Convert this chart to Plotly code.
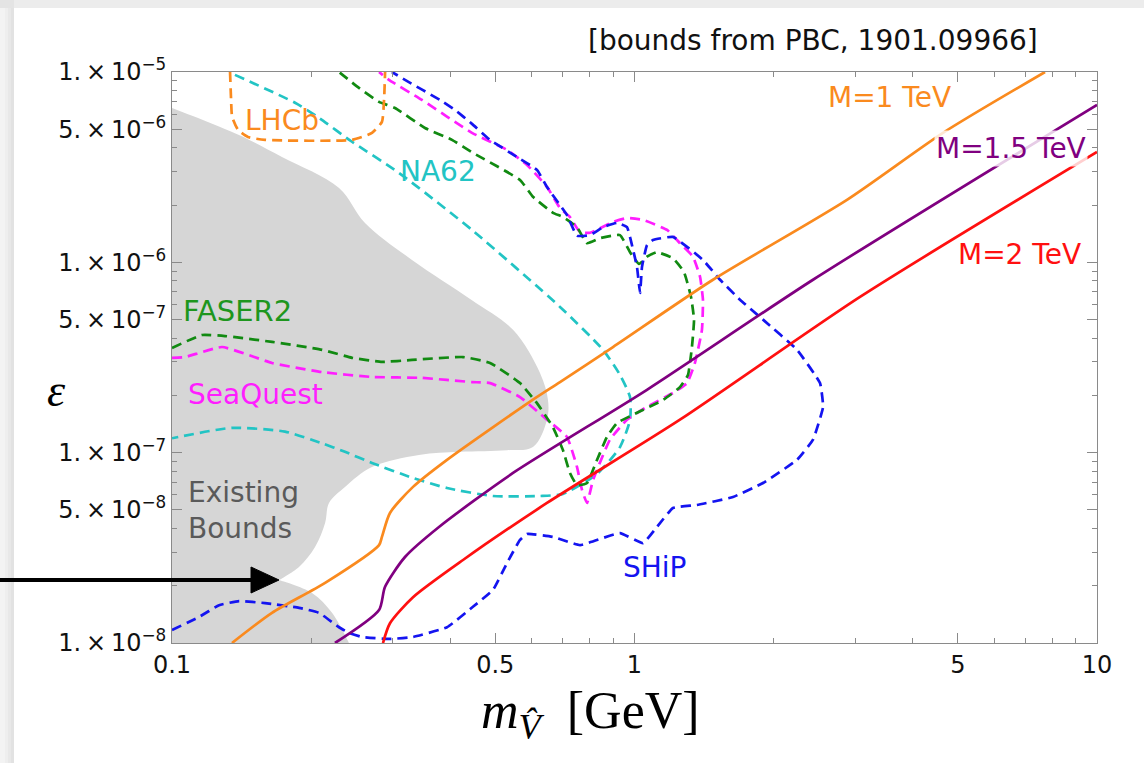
import plotly.graph_objects as go

# ---------------- data ----------------
gray_x = [0.1, 0.1, 0.1, 0.1396, 0.1729, 0.2297, 0.2614, 0.3303, 0.4452, 0.5462, 0.6247, 0.650, 0.6468,
          0.6032, 0.530, 0.4195, 0.342, 0.2706, 0.2366, 0.2185, 0.2143, 0.2038, 0.1882, 0.1703,
          0.1703, 0.2008, 0.2218, 0.2414, 0.2414, 0.1, 0.1]
gray_y = [1e-8, 6.47e-6, 6.47e-6, 4.67e-6, 3.58e-6, 2.46e-6, 1.61e-6, 1.03e-6, 6.33e-7, 4.42e-7, 2.62e-7,
          1.89e-7, 1.49e-7, 1.07e-7, 1.03e-7, 1.01e-7, 9.73e-8, 8.41e-8, 6.61e-8, 5.44e-8, 4.27e-8,
          3.19e-8, 2.51e-8, 2.14e-8, 2.14e-8, 1.83e-8, 1.44e-8, 1e-8, 1e-8, 1e-8, 1e-8]

lhcb_x = [0.1335, 0.1342, 0.1349, 0.1389, 0.1459, 0.1589, 0.2450, 0.2706, 0.2844, 0.2874, 0.2889]
lhcb_y = [1.0e-5, 7.13e-6, 5.81e-6, 4.97e-6, 4.56e-6, 4.40e-6, 4.40e-6, 4.79e-6, 5.47e-6, 7.13e-6, 1.0e-5]

na62_x = [0.1368, 0.1845, 0.2079, 0.2450, 0.3096, 0.4452, 0.6901, 0.8549, 0.9303, 0.9779, 0.9779,
          0.9303, 0.8297, 0.7005, 0.6247, 0.4943, 0.3932, 0.3320, 0.2706, 0.2366, 0.2111, 0.1755,
          0.1348, 0.1]
na62_y = [9.66e-6, 6.89e-6, 5.74e-6, 4.30e-6, 2.95e-6, 1.48e-6, 5.83e-7, 3.47e-7, 2.56e-7, 1.96e-7,
          1.49e-7, 1.07e-7, 7.73e-8, 6.07e-8, 5.92e-8, 5.92e-8, 6.52e-8, 7.36e-8, 8.83e-8, 1.01e-7,
          1.12e-7, 1.29e-7, 1.35e-7, 1.19e-7]

faser2_x = [0.1, 0.1161, 0.1302, 0.1645, 0.2111, 0.2450, 0.2844, 0.3303, 0.4258, 0.4871, 0.5655,
            0.6154, 0.6664, 0.7005, 0.7252, 0.7510, 0.7895, 0.8297, 0.8720, 0.9166, 1.0125, 1.152,
            1.254, 1.305, 1.331, 1.345, 1.325, 1.279, 1.211, 1.118, 1.064, 1.023, 0.9779, 0.9303,
            0.8422, 0.7895, 0.7510, 0.7005, 0.6664, 0.6032, 0.5655, 0.4474, 0.4031, 0.3524, 0.3035,
            0.2803, 0.2536, 0.2297]
faser2_y = [3.55e-7, 4.15e-7, 4.10e-7, 3.82e-7, 3.47e-7, 3.15e-7, 3.00e-7, 3.07e-7, 3.18e-7, 2.96e-7,
            2.32e-7, 1.82e-7, 1.36e-7, 1.03e-7, 7.82e-8, 6.76e-8, 6.93e-8, 9.15e-8, 1.21e-7, 1.43e-7,
            1.62e-7, 1.89e-7, 2.21e-7, 2.56e-7, 3.59e-7, 5.00e-7, 6.58e-7, 8.91e-7, 1.05e-6, 1.13e-6,
            1.07e-6, 9.81e-7, 1.13e-6, 1.39e-6, 1.34e-6, 1.26e-6, 1.53e-6, 1.73e-6, 1.82e-6, 2.21e-6,
            2.71e-6, 3.76e-6, 4.40e-6, 5.08e-6, 6.47e-6, 6.97e-6, 8.25e-6, 1.0e-5]

seaquest_x = [0.1, 0.1067, 0.1283, 0.1645, 0.2111, 0.2706, 0.3471, 0.4452, 0.4871, 0.5655, 0.6468,
              0.7145, 0.7510, 0.7700, 0.7895, 0.8136, 0.885, 0.9634, 1.064, 1.211, 1.299, 1.351,
              1.399, 1.406, 1.386, 1.338, 1.254, 1.176, 1.043, 0.9634, 0.8985, 0.8012, 0.7624,
              0.7252, 0.6901, 0.6468, 0.5856, 0.530, 0.4452, 0.3471, 0.2944, 0.2803]
seaquest_y = [3.15e-7, 3.18e-7, 3.59e-7, 2.96e-7, 2.65e-7, 2.50e-7, 2.47e-7, 2.35e-7, 2.32e-7, 1.96e-7,
              1.49e-7, 1.21e-7, 8.41e-8, 6.37e-8, 5.44e-8, 7.19e-8, 1.17e-7, 1.49e-7, 1.74e-7, 2.06e-7,
              2.32e-7, 2.96e-7, 4.42e-7, 6.36e-7, 8.38e-7, 1.07e-6, 1.26e-6, 1.48e-6, 1.67e-6, 1.71e-6,
              1.63e-6, 1.43e-6, 1.44e-6, 1.73e-6, 1.93e-6, 2.49e-6, 3.25e-6, 3.90e-6, 4.79e-6, 7.13e-6,
              9.09e-6, 1.0e-5]

ship_x = [0.1, 0.1144, 0.1264, 0.1396, 0.1589, 0.1882, 0.2079, 0.2297, 0.2414, 0.2576, 0.2944,
          0.3320, 0.3932, 0.4474, 0.4943, 0.530, 0.5655, 0.5856, 0.6664, 0.7624, 0.9303, 1.043,
          1.118, 1.211, 1.365, 1.633, 1.896, 2.246, 2.432, 2.557, 2.518, 2.246, 1.896, 1.691, 1.531,
          1.406, 1.211, 1.096, 1.064, 1.038, 1.028, 1.0125, 0.9876, 0.9634, 0.9166, 0.8549, 0.8012,
          0.7510, 0.7145, 0.6468, 0.6154, 0.5567, 0.4871, 0.4452, 0.4092, 0.3797, 0.3190, 0.2989]
ship_y = [1.17e-8, 1.37e-8, 1.58e-8, 1.66e-8, 1.62e-8, 1.53e-8, 1.44e-8, 1.21e-8, 1.13e-8, 1.075e-8,
          1.05e-8, 1.075e-8, 1.21e-8, 1.55e-8, 1.90e-8, 2.63e-8, 3.48e-8, 3.74e-8, 3.61e-8, 3.27e-8,
          3.78e-8, 3.35e-8, 4.07e-8, 5.12e-8, 5.31e-8, 5.85e-8, 6.93e-8, 9.17e-8, 1.17e-7, 1.74e-7,
          2.32e-7, 3.47e-7, 5.00e-7, 6.36e-7, 8.10e-7, 1.03e-6, 1.36e-6, 1.31e-6, 1.23e-6, 9.46e-7,
          6.90e-7, 9.46e-7, 1.23e-6, 1.53e-6, 1.61e-6, 1.53e-6, 1.39e-6, 1.38e-6, 1.77e-6, 2.49e-6,
          3.06e-6, 3.58e-6, 4.40e-6, 5.34e-6, 6.32e-6, 7.13e-6, 9.09e-6, 1.0e-5]

m1_x = [0.1348, 0.1645, 0.2143, 0.2803, 0.2844, 0.2960, 0.3320, 0.3932, 0.6032, 0.6901, 0.8985,
        1.478, 2.880, 4.645, 7.72]
m1_y = [1e-8, 1.44e-8, 2.07e-8, 3.27e-8, 3.61e-8, 4.82e-8, 6.61e-8, 9.17e-8, 1.90e-7, 2.35e-7,
        3.59e-7, 8.10e-7, 2.13e-6, 4.79e-6, 1.0e-5]

m15_x = [0.2251, 0.2803, 0.2887, 0.3190, 0.3778, 0.5462, 1.064, 2.432, 10.0]
m15_y = [1e-8, 1.49e-8, 1.97e-8, 2.83e-8, 4.07e-8, 7.82e-8, 2.14e-7, 8.10e-7, 6.72e-6]

m2_x = [0.2859, 0.2960, 0.3320, 0.4258, 0.6468, 1.254, 3.073, 10.0]
m2_y = [1e-8, 1.27e-8, 1.74e-8, 2.73e-8, 5.44e-8, 1.49e-7, 6.58e-7, 3.80e-6]

x_tick_vals = [0.1, 0.5, 1, 5, 10]
x_tick_text = ["0.1", "0.5", "1", "5", "10"]
x_minor_vals = [0.2, 0.3, 0.4, 0.6, 0.7, 0.8, 0.9, 2, 3, 4, 6, 7, 8, 9]
y_tick_vals = [1e-8, 5e-8, 1e-7, 5e-7, 1e-6, 5e-6, 1e-5]
y_tick_text = ["1.\u2009×\u200910<sup>−8</sup>", "5.\u2009×\u200910<sup>−8</sup>",
               "1.\u2009×\u200910<sup>−7</sup>", "5.\u2009×\u200910<sup>−7</sup>",
               "1.\u2009×\u200910<sup>−6</sup>", "5.\u2009×\u200910<sup>−6</sup>",
               "1.\u2009×\u200910<sup>−5</sup>"]
y_minor_vals = [m * 10.0 ** e for e in (-8, -7, -6) for m in (2, 3, 4, 6, 7, 8, 9)]

# ---------------- colours ----------------
C_ORANGE = "#FA8A1E"
C_PURPLE = "#800080"
C_RED = "#FF1010"
C_BLUE = "#1414F0"
C_MAGENTA = "#FF1EFF"
C_GREEN = "#118A11"
C_CYAN = "#22C4C4"
C_GRAY = "#D6D6D6"

fig = go.Figure()

fig.add_trace(go.Scatter(x=gray_x, y=gray_y, mode="lines", fill="toself", fillcolor=C_GRAY,
                         line=dict(width=0, color=C_GRAY), line_shape="spline",
                         showlegend=False, hoverinfo="skip"))

dash = "10px,6px"
for xs, ys, col, sm in [(na62_x, na62_y, C_CYAN, 0.6), (seaquest_x, seaquest_y, C_MAGENTA, 0.4),
                        (faser2_x, faser2_y, C_GREEN, 0.4), (ship_x, ship_y, C_BLUE, 0.35),
                        (lhcb_x, lhcb_y, C_ORANGE, 0.5)]:
    fig.add_trace(go.Scatter(x=xs, y=ys, mode="lines",
                             line=dict(color=col, width=2.7, dash=dash, shape="spline", smoothing=sm),
                             showlegend=False, hoverinfo="skip"))

for xs, ys, col in [(m1_x, m1_y, C_ORANGE), (m15_x, m15_y, C_PURPLE), (m2_x, m2_y, C_RED)]:
    fig.add_trace(go.Scatter(x=xs, y=ys, mode="lines",
                             line=dict(color=col, width=2.7, shape="spline", smoothing=0.7),
                             showlegend=False, hoverinfo="skip"))

TICKC = "#8a8a8a"
fig.update_xaxes(type="log", range=[-1, 1], tickmode="array", tickvals=x_tick_vals,
                 ticktext=x_tick_text, ticks="inside", ticklen=10, tickwidth=1, tickcolor=TICKC,
                 showline=True, linecolor=TICKC, linewidth=1, mirror="allticks", showgrid=False,
                 zeroline=False, tickfont=dict(family="DejaVu Sans", size=24, color="#111"),
                 minor=dict(tickmode="array", tickvals=x_minor_vals, ticks="inside", ticklen=5,
                            tickcolor=TICKC, showgrid=False))
fig.update_yaxes(type="log", range=[-8, -5], tickmode="array", tickvals=y_tick_vals,
                 ticktext=y_tick_text, ticks="inside", ticklen=10, tickwidth=1, tickcolor=TICKC,
                 showline=True, linecolor=TICKC, linewidth=1, mirror="allticks", showgrid=False,
                 zeroline=False, tickfont=dict(family="DejaVu Sans", size=24, color="#111"),
                 minor=dict(tickmode="array", tickvals=y_minor_vals, ticks="inside", ticklen=5,
                            tickcolor=TICKC, showgrid=False))

L, R, T, B = 172, 47, 72, 120
W, H = 1144, 763
PW, PH = W - L - R, H - T - B


def px(xp):
    return (xp - L) / PW


def py(yp):
    return (H - B - yp) / PH


ann = []


def label(text, xp, yp, color, xanchor="left", size=28, bg=None, family="DejaVu Sans", align="left"):
    d = dict(text=text, x=px(xp), y=py(yp), xref="paper", yref="paper", showarrow=False,
             xanchor=xanchor, yanchor="middle", align=align,
             font=dict(family=family, size=size, color=color))
    if bg:
        d["bgcolor"] = bg
    ann.append(d)


label("[bounds from PBC, 1901.09966]", 1040, 40, "#111", xanchor="right", size=28)
label("M=1 TeV", 953, 97, C_ORANGE, xanchor="right")
label("M=1.5 TeV", 1088, 148, C_PURPLE, xanchor="right", bg="rgba(255,255,255,0.8)")
label("M=2 TeV", 1083, 254, C_RED, xanchor="right")
label("NA62", 398, 171, C_CYAN)
label("LHCb", 243, 121, C_ORANGE)
label("FASER2", 181, 311, "#1E961E", size=29)
label("SeaQuest", 186, 394, C_MAGENTA)
label("Existing<br>Bounds", 186, 510, "#5a5a5a")
label("SHiP", 621, 567, C_BLUE)
label("<i>ε</i>", 56, 390, "#000", xanchor="center", size=46, family="Liberation Serif")
label("<i>m</i><sub><i>V\u0302</i></sub>  [GeV]", 590, 714, "#000", xanchor="center", size=52,
      family="Liberation Serif")

shapes = []
# card shadow at the left and top edges
for i, c in enumerate(["#e2e2e2", "#e8e8e8", "#eeeeee", "#f3f3f3"]):
    shapes.append(dict(type="rect", xref="paper", yref="paper", x0=px(0), x1=px(14 - 3 * i),
                       y0=py(H), y1=py(0), fillcolor=c, line=dict(width=0), layer="below"))
shapes.append(dict(type="rect", xref="paper", yref="paper", x0=px(14), x1=px(W),
                   y0=py(8), y1=py(0), fillcolor="#ececec", line=dict(width=0), layer="below"))
shapes.append(dict(type="rect", xref="paper", yref="paper", x0=px(0), x1=px(14),
                   y0=py(8), y1=py(0), fillcolor="#e4e4e4", line=dict(width=0), layer="below"))
# arrow
shapes.append(dict(type="line", xref="paper", yref="paper", x0=px(0), x1=px(256), y0=py(580),
                   y1=py(580), line=dict(color="#000", width=4)))
shapes.append(dict(type="path", xref="paper", yref="paper",
                   path=f"M {px(279)} {py(580)} L {px(251)} {py(567)} L {px(251)} {py(593)} Z",
                   fillcolor="#000", line=dict(color="#000", width=1)))

fig.update_layout(width=W, height=H, margin=dict(l=L, r=R, t=T, b=B),
                  paper_bgcolor="white", plot_bgcolor="white",
                  annotations=ann, shapes=shapes, showlegend=False)

fig.write_html("out.html", config={"displayModeBar": False},
               post_script="document.body.style.margin='0px';")
